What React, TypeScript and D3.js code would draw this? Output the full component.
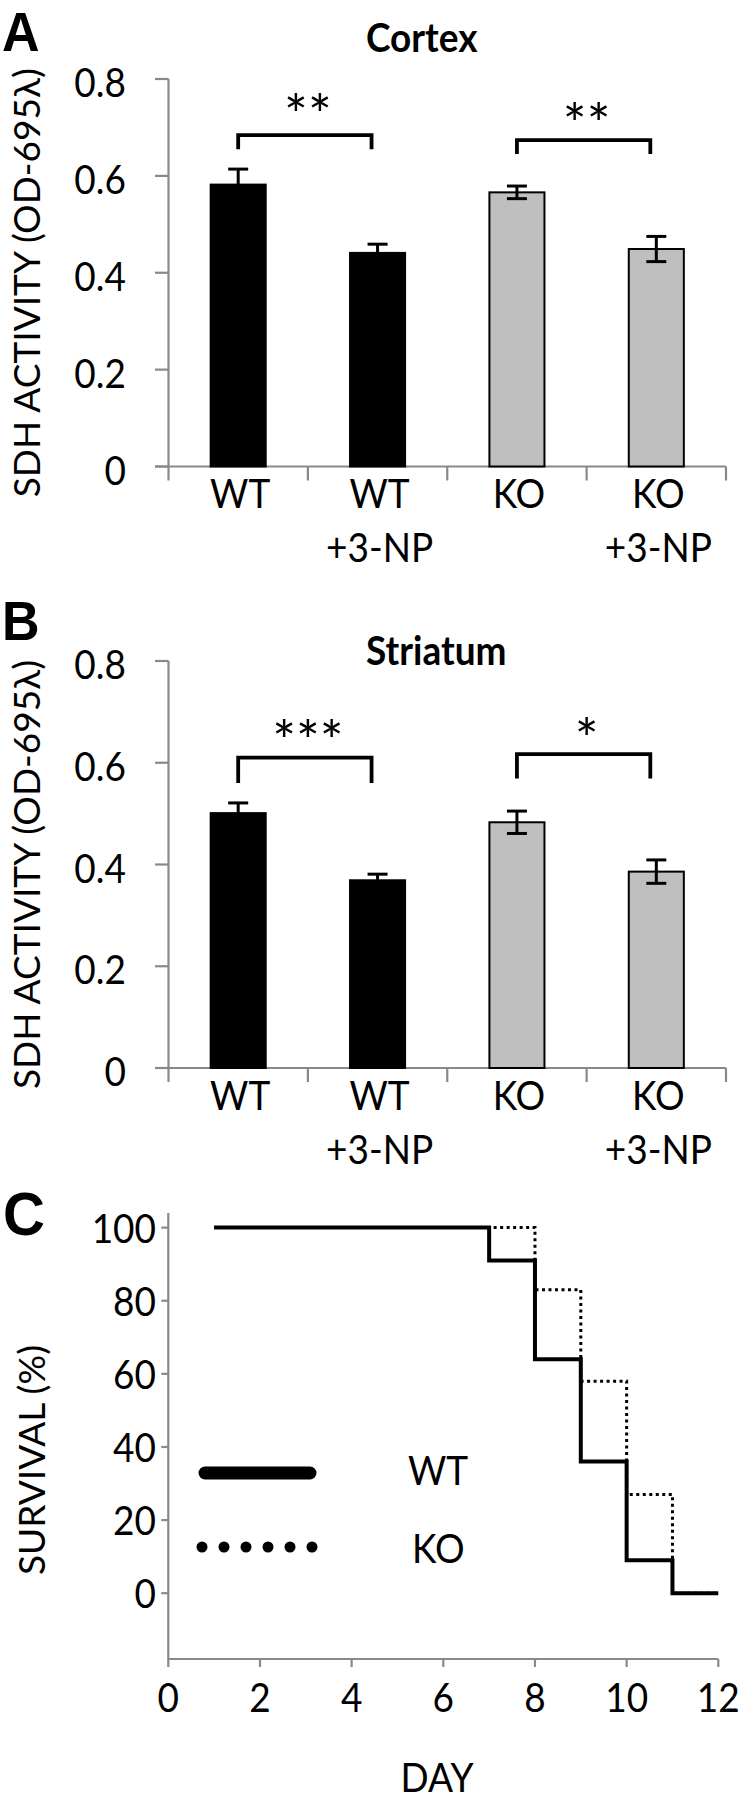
import React from 'react';
import * as d3 from 'd3';

const W = 747;
const H = 1800;
const FONT = "Lato, 'Open Sans', sans-serif";
const AXIS = '#898989';

// groups for the SDH panels
const groupLabels = [['WT'], ['WT', '+3-NP'], ['KO'], ['KO', '+3-NP']];
const groupFill = ['#000000', '#000000', '#bfbfbf', '#bfbfbf'];
const sdhTicks = [0, 0.2, 0.4, 0.6, 0.8];
const sigPairs = [[0, 1], [2, 3]];

// A - cortex
const cortexMean = [0.582, 0.441, 0.566, 0.449];
const cortexSem = [0.032, 0.018, 0.013, 0.026];
const cortexSig = ['**', '**'];
const cortexSigLevel = [0.684, 0.674];
const cortexSigLeg = [0.655, 0.645];
const cortexSigMark = [0.746, 0.727];

// B - striatum
const striatumMean = [0.501, 0.369, 0.483, 0.386];
const striatumSem = [0.02, 0.012, 0.022, 0.023];
const striatumSig = ['***', '*'];
const striatumSigLevel = [0.61, 0.617];
const striatumSigLeg = [0.56, 0.569];
const striatumSigMark = [0.662, 0.667];

// C - survival
const wtDays = [1, 7, 8, 9, 10, 11, 12];
const wtSurvival = [100, 91, 64, 36, 9, 0, 0];
const koDays = [1, 8, 9, 10, 11, 12];
const koSurvival = [100, 83, 58, 27, 0, 0];
const survivalTicks = [0, 20, 40, 60, 80, 100];
const dayTicks = [0, 2, 4, 6, 8, 10, 12];

// text slightly taller than the font draws it, as in the figure
function Label(props: {
  x: number;
  y: number;
  size?: number;
  anchor?: string;
  bold?: boolean;
  family?: string;
  sy?: number;
  children: React.ReactNode;
}) {
  const { x, y, size = 37, anchor = 'start', bold = false, family = FONT, sy = 1.1 } = props;
  return (
    <text
      transform={`translate(${x},${y}) scale(1,${sy})`}
      textAnchor={anchor}
      fontFamily={family}
      fontWeight={bold ? 'bold' : 'normal'}
      fontSize={size}
    >
      {props.children}
    </text>
  );
}

type BarProps = {
  letter: string;
  letterY: number;
  title: string;
  titleY: number;
  y0: number;
  y1: number;
  mean: number[];
  sem: number[];
  sig: string[];
  sigLevel: number[];
  sigLeg: number[];
  sigMark: number[];
};

function BarPanel(p: BarProps) {
  const x = d3.scaleBand<number>().domain(d3.range(groupLabels.length)).range([168.5, 726]);
  const y = d3.scaleLinear().domain([0, 0.8]).range([p.y0, p.y1]);
  const bw = x.bandwidth();
  const barW = bw * 0.395;
  const cx = (i: number) => (x(i) as number) + bw / 2;
  const bounds = d3.range(groupLabels.length + 1).map((i) => 168.5 + i * bw);

  return (
    <g>
      <Label x={2} y={p.letterY} size={52} bold family="'Liberation Sans', Arial, sans-serif" sy={1.08}>
        {p.letter}
      </Label>
      <Label x={366} y={p.titleY} bold>
        {p.title}
      </Label>
      <text
        transform={`translate(40, ${(p.y0 + p.y1) / 2 + 10}) rotate(-90)`}
        textAnchor="middle"
        fontFamily={FONT}
        fontSize={37}
      >
        SDH ACTIVITY (OD-695λ)
      </text>

      {/* axes */}
      <line x1={168.5} x2={168.5} y1={p.y1} y2={p.y0} stroke={AXIS} strokeWidth={2.2} />
      <line x1={155} x2={726} y1={p.y0} y2={p.y0} stroke={AXIS} strokeWidth={2.2} />
      {sdhTicks.map((t) => (
        <g key={t}>
          <line x1={155} x2={168.5} y1={y(t)} y2={y(t)} stroke={AXIS} strokeWidth={2.2} />
          <Label x={126} y={y(t) + 18} anchor="end">
            {t === 0 ? '0' : t.toFixed(1)}
          </Label>
        </g>
      ))}
      {bounds.map((b, i) => (
        <line key={i} x1={b} x2={b} y1={p.y0} y2={p.y0 + 14} stroke={AXIS} strokeWidth={2.2} />
      ))}
      {groupLabels.map((lines, i) =>
        lines.map((l, j) => (
          <Label key={`${i}-${j}`} x={cx(i) + 2} y={p.y0 + 41.5 + j * 54} anchor="middle">
            {l}
          </Label>
        ))
      )}

      {/* bars */}
      {p.mean.map((m, i) => (
        <rect
          key={i}
          x={cx(i) - barW / 2}
          y={y(m)}
          width={barW}
          height={y(0) - y(m)}
          fill={groupFill[i]}
          stroke="#000"
          strokeWidth={2}
        />
      ))}
      {p.mean.map((m, i) => (
        <g key={i} stroke="#000" strokeWidth={3}>
          <line x1={cx(i)} x2={cx(i)} y1={y(m + p.sem[i])} y2={y(m - p.sem[i])} />
          <line x1={cx(i) - 10} x2={cx(i) + 10} y1={y(m + p.sem[i])} y2={y(m + p.sem[i])} />
          <line x1={cx(i) - 10} x2={cx(i) + 10} y1={y(m - p.sem[i])} y2={y(m - p.sem[i])} />
        </g>
      ))}

      {/* significance */}
      {sigPairs.map(([a, b], k) => (
        <g key={k}>
          <path
            d={`M${cx(a)},${y(p.sigLeg[k])}V${y(p.sigLevel[k])}H${cx(b) - 6}V${y(p.sigLeg[k])}`}
            fill="none"
            stroke="#000"
            strokeWidth={3.8}
          />
          <Label x={(cx(a) + cx(b)) / 2} y={y(p.sigMark[k]) + 30} anchor="middle" size={56} sy={1}>
            {p.sig[k]}
          </Label>
        </g>
      ))}
    </g>
  );
}

function SurvivalPanel() {
  const x = d3.scaleLinear().domain([0, 12]).range([168.3, 718.3]);
  const y = d3.scaleLinear().domain([-18, 104]).range([1659, 1213]);
  const line = d3
    .line<number>()
    .x((d) => x(d))
    .curve(d3.curveStepAfter);
  const wtPath = line.y((_, i) => y(wtSurvival[i]))(wtDays) as string;
  const koPath = line.y((_, i) => y(koSurvival[i]))(koDays) as string;

  return (
    <g>
      <Label x={3} y={1235} size={58} bold family="'Liberation Sans', Arial, sans-serif" sy={1.05}>
        C
      </Label>
      <text transform="translate(45, 1460) rotate(-90)" textAnchor="middle" fontFamily={FONT} fontSize={37}>
        SURVIVAL (%)
      </text>

      <line x1={x(0)} x2={x(0)} y1={y(104)} y2={y(-18)} stroke={AXIS} strokeWidth={2.2} />
      <line x1={x(0)} x2={x(12)} y1={y(-18)} y2={y(-18)} stroke={AXIS} strokeWidth={2.2} />
      {survivalTicks.map((t) => (
        <g key={t}>
          <line x1={x(0) - 7} x2={x(0)} y1={y(t)} y2={y(t)} stroke={AXIS} strokeWidth={2.2} />
          <Label x={156} y={y(t) + 15} anchor="end">
            {t}
          </Label>
        </g>
      ))}
      {dayTicks.map((t) => (
        <g key={t}>
          <line x1={x(t)} x2={x(t)} y1={y(-18)} y2={y(-18) + 8} stroke={AXIS} strokeWidth={2.2} />
          <Label x={x(t)} y={1712} anchor="middle">
            {t}
          </Label>
        </g>
      ))}
      <Label x={437} y={1792} anchor="middle">
        DAY
      </Label>

      <path d={koPath} fill="none" stroke="#000" strokeWidth={3} strokeDasharray="3 3.5" />
      <path d={wtPath} fill="none" stroke="#000" strokeWidth={4} />

      {/* legend */}
      <line x1={205} x2={310} y1={1473} y2={1473} stroke="#000" strokeWidth={13} strokeLinecap="round" />
      <Label x={408} y={1485}>
        WT
      </Label>
      {d3.range(6).map((i) => (
        <circle key={i} cx={202 + i * 22} cy={1547} r={5.5} fill="#000" />
      ))}
      <Label x={412} y={1563}>
        KO
      </Label>
    </g>
  );
}

export default function App() {
  return (
    <svg
      width={W}
      height={H}
      viewBox={`0 0 ${W} ${H}`}
      style={{ position: 'absolute', left: 0, top: 0, display: 'block', background: '#fff' }}
    >
      <rect width={W} height={H} fill="#fff" />
      <BarPanel
        letter="A"
        letterY={51}
        title="Cortex"
        titleY={52}
        y0={466.5}
        y1={79}
        mean={cortexMean}
        sem={cortexSem}
        sig={cortexSig}
        sigLevel={cortexSigLevel}
        sigLeg={cortexSigLeg}
        sigMark={cortexSigMark}
      />
      <BarPanel
        letter="B"
        letterY={640}
        title="Striatum"
        titleY={665}
        y0={1068}
        y1={661}
        mean={striatumMean}
        sem={striatumSem}
        sig={striatumSig}
        sigLevel={striatumSigLevel}
        sigLeg={striatumSigLeg}
        sigMark={striatumSigMark}
      />
      <SurvivalPanel />
    </svg>
  );
}
